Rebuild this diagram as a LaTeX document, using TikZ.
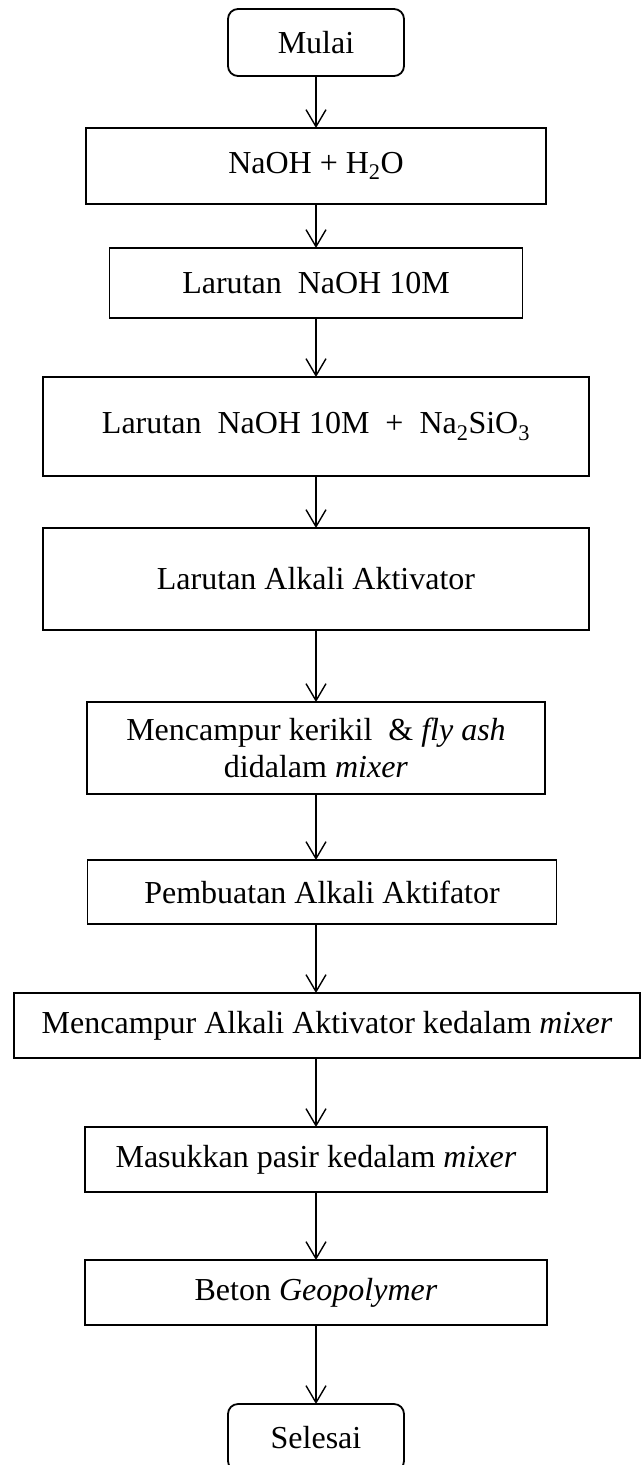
\documentclass[tikz,border=0pt]{standalone}
\usepackage{fontspec}
\setmainfont{Liberation Serif}
\usetikzlibrary{positioning,arrows.meta}

\begin{document}
\begin{tikzpicture}[x=1pt, y=1pt, >={Straight Barb[length=17pt,width=20pt]}, every node/.style={font=\fontsize{32}{37}\selectfont}]
  \tikzstyle{terminal}=[draw, line width=1.8pt, rounded corners=10pt, minimum width=176pt, minimum height=67pt, inner sep=0pt, outer sep=0pt, align=center]
  \tikzstyle{proses}=[draw, line width=1.8pt, minimum height=65pt, inner sep=0pt, outer sep=0pt, align=center]
  \tikzstyle{panah}=[->, line width=1.4pt]
  \useasboundingbox (0,0) rectangle (643,-1465);
  \node[terminal] (mulai) at (316,-42.5) {Mulai};
  \node[proses, minimum width=460pt, minimum height=76pt, below=52pt of mulai] (naoh) {NaOH + H\textsubscript{2}O};
  \node[proses, minimum width=413pt, minimum height=70pt, below=44pt of naoh] (larutan) {Larutan\ \ NaOH 10M};
  \node[proses, minimum width=546pt, minimum height=99pt, below=59pt of larutan] (campuran) {Larutan\ \ NaOH 10M\ \ +\ \ Na\textsubscript{2}SiO\textsubscript{3}};
  \node[proses, minimum width=546pt, minimum height=102pt, below=52pt of campuran] (aktivator) {Larutan Alkali Aktivator};
  \node[proses, minimum width=458pt, minimum height=92pt, below=72pt of aktivator] (kerikil) {Mencampur kerikil\ \ \& \textit{fly ash}\\didalam \textit{mixer}};
  \node[proses, minimum width=469pt, minimum height=64pt, below=66pt of kerikil, xshift=6pt] (pembuatan) {Pembuatan Alkali Aktifator};
  \node[proses, minimum width=626pt, below=69pt of pembuatan, xshift=5pt] (mixer) {Mencampur Alkali Aktivator kedalam \textit{mixer}};
  \node[proses, minimum width=462pt, below=69pt of mixer, xshift=-11pt] (pasir) {Masukkan pasir kedalam \textit{mixer}};
  \node[proses, minimum width=462pt, below=68pt of pasir] (beton) {Beton \textit{Geopolymer}};
  \node[terminal, below=79pt of beton] (selesai) {Selesai};
  \draw[panah] (mulai) -- (naoh);
  \draw[panah] (naoh) -- (larutan);
  \draw[panah] (larutan) -- (campuran);
  \draw[panah] (campuran) -- (aktivator);
  \draw[panah] (aktivator) -- (kerikil);
  \draw[panah] (kerikil.south) -- (kerikil.south |- pembuatan.north);
  \draw[panah] (pembuatan.south -| kerikil.south) -- (kerikil.south |- mixer.north);
  \draw[panah] (mixer.south -| pasir.north) -- (pasir);
  \draw[panah] (pasir) -- (beton);
  \draw[panah] (beton) -- (selesai);
\end{tikzpicture}
\end{document}
